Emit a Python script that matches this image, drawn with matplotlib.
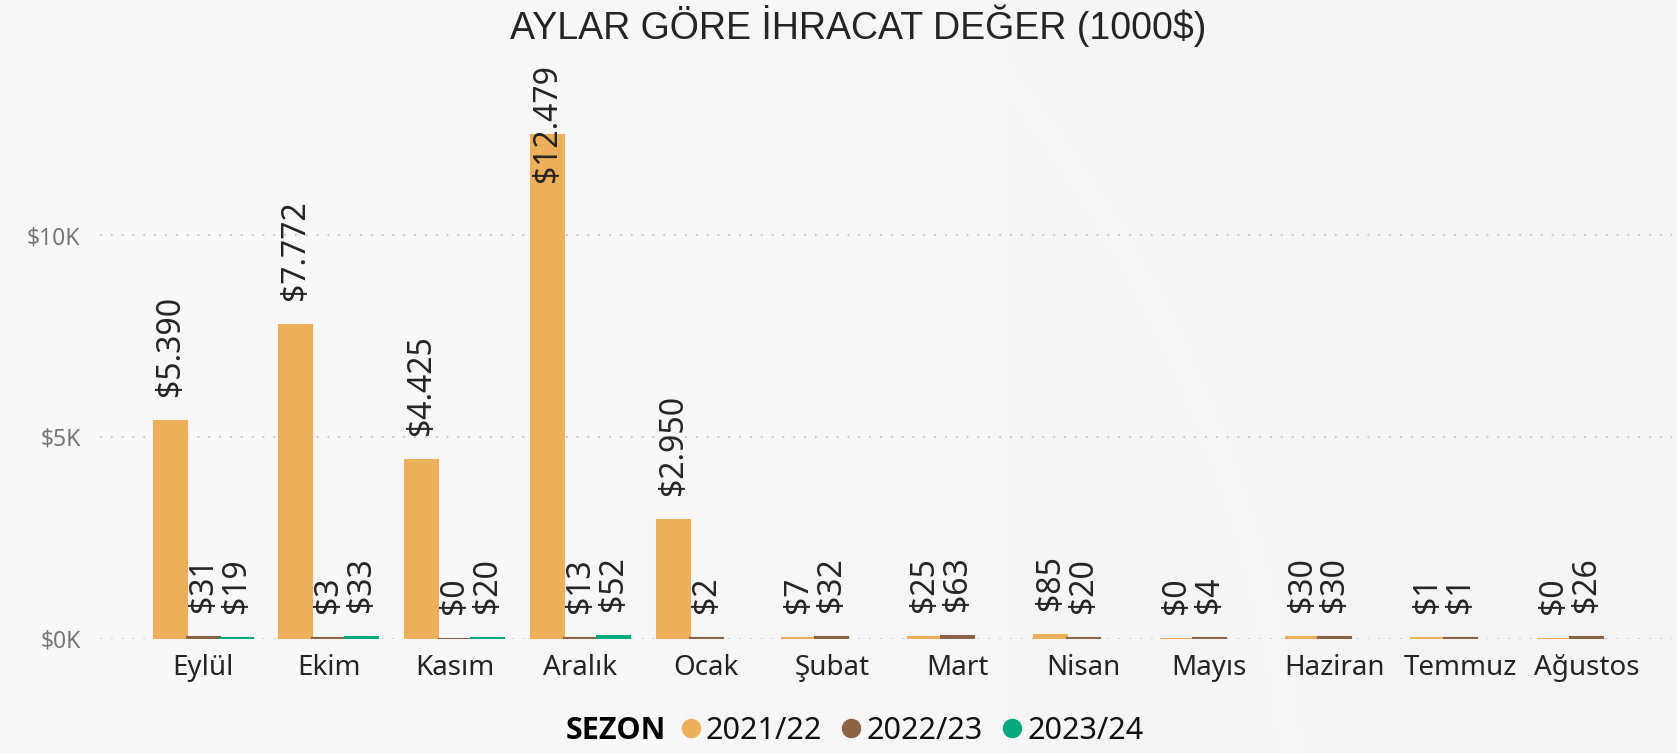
import numpy as np
import matplotlib.pyplot as plt
from matplotlib.lines import Line2D
from matplotlib.patches import Ellipse

months = ["Eylül", "Ekim", "Kasım", "Aralık", "Ocak", "Şubat", "Mart",
          "Nisan", "Mayıs", "Haziran", "Temmuz", "Ağustos"]
seasons = ["2021/22", "2022/23", "2023/24"]
v2021_22 = [5390, 7772, 4425, 12479, 2950, 7, 25, 85, 0, 30, 1, 0]
v2022_23 = [31, 3, 0, 13, 2, 32, 63, 20, 4, 30, 1, 26]
v2023_24 = [19, 33, 20, 52, np.nan, np.nan, np.nan, np.nan, np.nan, np.nan, np.nan, np.nan]
colors = ["#EEAF5B", "#8B6246", "#03A97B"]
y_ticks = [0, 5000, 10000]
y_tick_labels = ["$0K", "$5K", "$10K"]

plt.rcParams['font.family'] = ['Noto Sans', 'DejaVu Sans']

W, H = 1677, 753
fig = plt.figure(figsize=(W / 100, H / 100), dpi=100, facecolor="#f6f6f6")

# subtle background decoration
bg = fig.add_axes([0, 0, 1, 1], zorder=-10)
bg.set_xlim(0, W)
bg.set_ylim(0, H)
bg.axis('off')
grad = np.linspace(0, 1, 256)[None, :]
bg.imshow(grad, extent=[0, W, 0, H], aspect='auto', cmap=plt.matplotlib.colors.LinearSegmentedColormap.from_list(
    'g', ["#f9f9f9", "#f4f4f4"]), zorder=0)
for r in [700, 1000, 1300, 1650]:
    bg.add_patch(Ellipse((0, -150), 2 * r, 2 * r, fill=False, edgecolor='white', lw=14, alpha=0.12, zorder=1))

ax = fig.add_axes([100 / W, (H - 638.5) / H, (1672 - 100) / W, (638.5 - 64) / H])
ax.set_facecolor('none')
x = np.arange(len(months))
bw = 0.262
series = [v2021_22, v2022_23, v2023_24]

labels = []
for i, (vals, c) in enumerate(zip(series, colors)):
    vals = np.array(vals, dtype=float)
    mask = ~np.isnan(vals)
    xs = x[mask] + (i - 1) * bw
    ax.bar(xs, vals[mask], bw, color=c, edgecolor=c, linewidth=1.5, zorder=3)
    for xi, v in zip(xs, vals[mask]):
        txt = "$" + f"{int(round(v)):,}".replace(",", ".")
        t = ax.annotate(txt, (xi, v), xytext=(0, 18), textcoords='offset points',
                        rotation=90, ha='center', va='bottom', fontsize=23,
                        color='#252423', zorder=5, annotation_clip=False)
        labels.append((t, xi))

ax.set_xlim(-0.82, 11.68)
ax.set_ylim(0, 14250)
ax.set_xticks(x)
ax.set_xticklabels(months)
ax.set_yticks(y_ticks)
ax.set_yticklabels(y_tick_labels)
ax.tick_params(axis='x', length=0, pad=11, labelsize=20, labelcolor='#252423')
ax.tick_params(axis='y', length=0, pad=14, labelsize=16.5, labelcolor='#777777')
for s in ax.spines.values():
    s.set_visible(False)
ax.yaxis.grid(True, color='#c4c4c4', linewidth=1.3, linestyle=(0, (1, 5)), zorder=0)
ax.set_axisbelow(True)

# keep labels inside the plot area
fig.canvas.draw()
top = ax.get_window_extent().y1
for t, xi in labels:
    bb = t.get_window_extent()
    if bb.y1 > top:
        t.xy = (xi, ax.get_ylim()[1])
        t.xyann = (0, 0)
        t.set_va('top')

fig.text(858 / W, 1 - 25.5 / H, "AYLAR GÖRE İHRACAT DEĞER (1000$)", ha='center', va='center',
         fontsize=27, color='#252423', family=['Liberation Sans', 'DejaVu Sans'])

fig.text(666 / W, 1 - 731 / H, "SEZON", ha='right', va='center', fontsize=22,
         fontweight='bold', color='#000000', family=['Open Sans', 'DejaVu Sans'])
handles = [Line2D([], [], linestyle='none', marker='o', markersize=13, color=c) for c in colors]
fig.legend(handles, seasons, loc='center left', bbox_to_anchor=(680 / W, 1 - 731 / H), ncol=3,
           frameon=False, fontsize=22, handlelength=0.7, handletextpad=0.15, columnspacing=0.6,
           borderpad=0, borderaxespad=0, labelcolor='#111111')

fig.savefig("out.png", dpi=100, facecolor=fig.get_facecolor())
